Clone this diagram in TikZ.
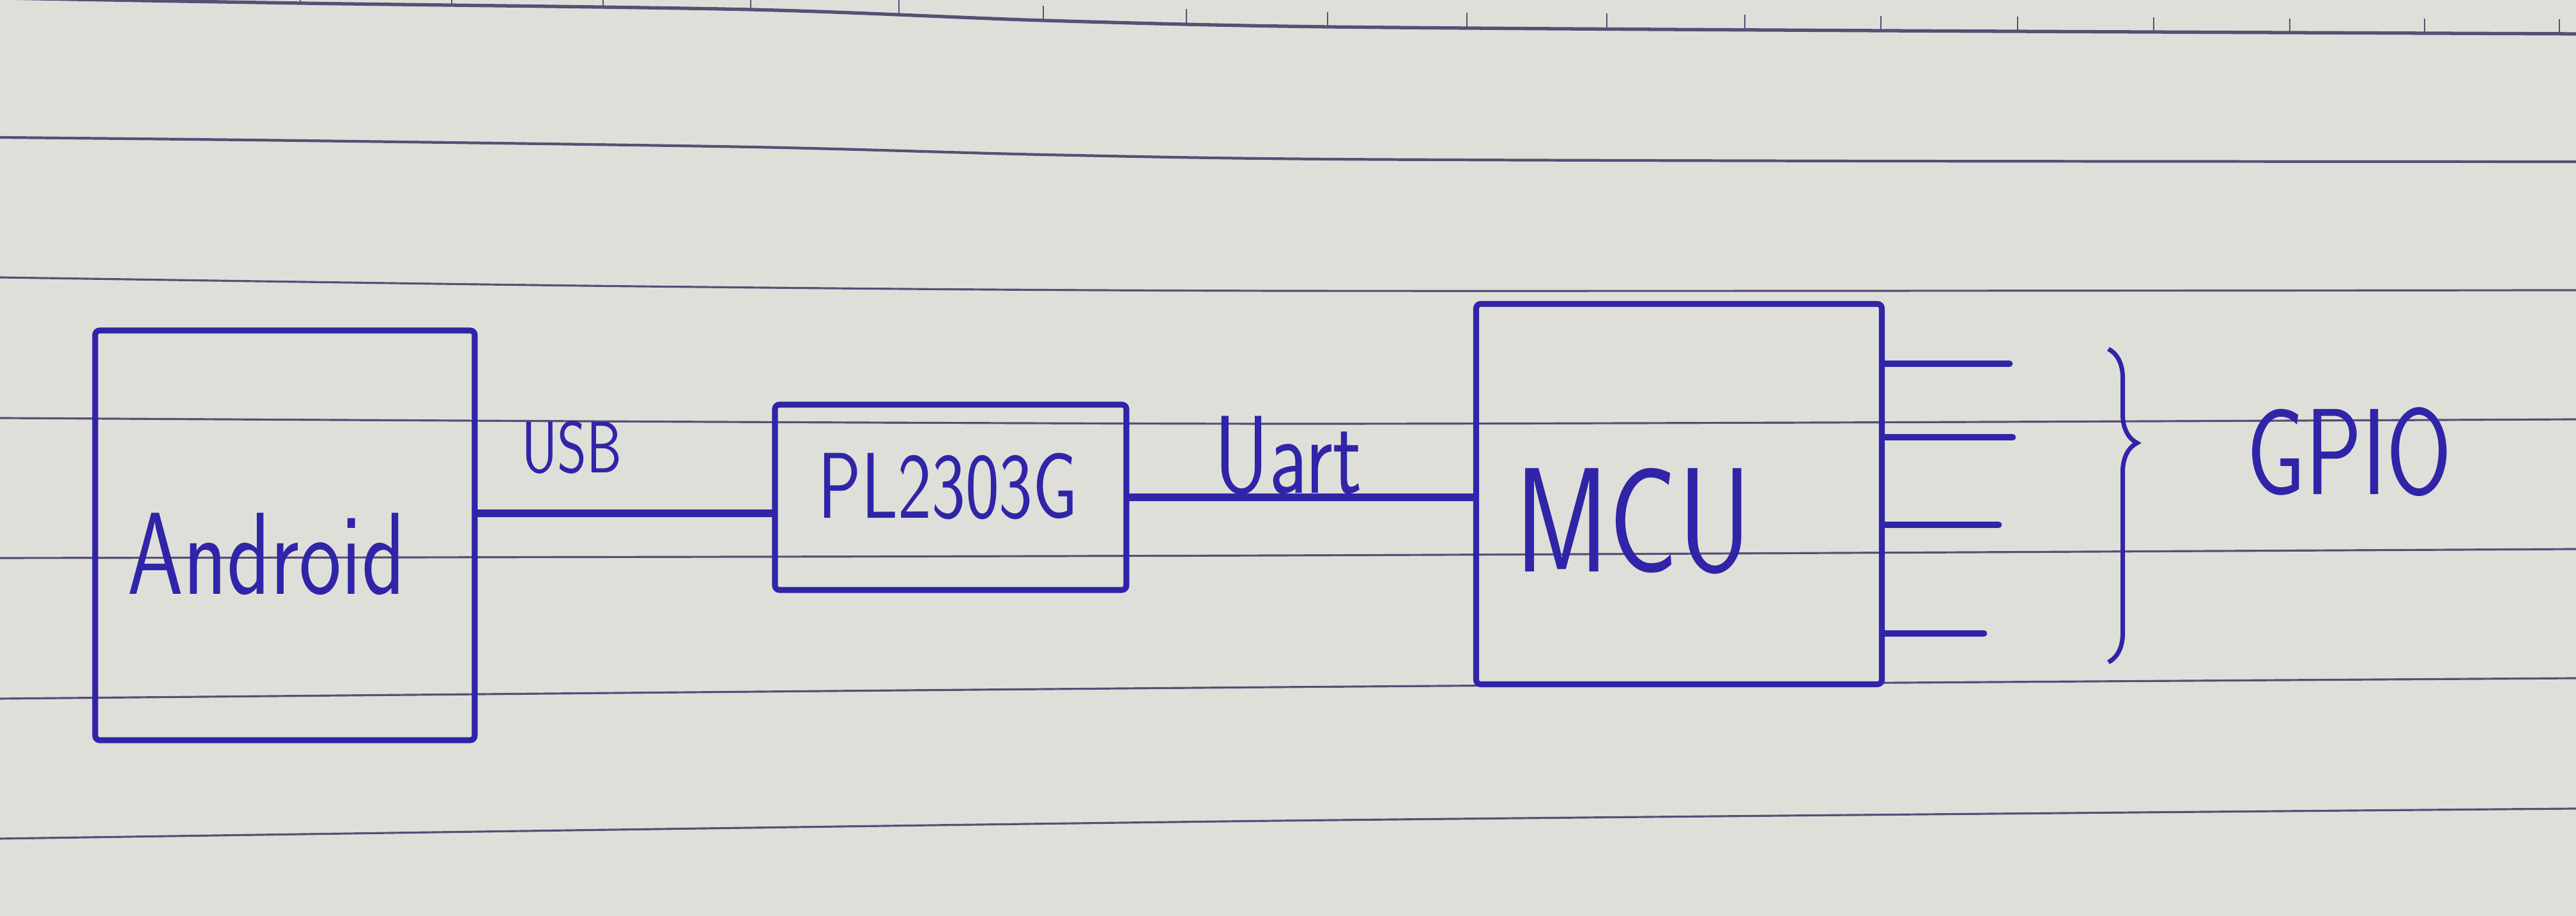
\documentclass[tikz,border=0pt]{standalone}
\usepackage{fontspec}
\usetikzlibrary{positioning,decorations.pathreplacing}
\definecolor{pen}{RGB}{48,36,168}
\definecolor{paper}{RGB}{223,223,217}
\definecolor{rule}{RGB}{88,78,118}
\tikzset{
  block/.style = {draw=pen, line width=2.6pt, inner sep=0pt, rounded corners=2pt},
  wire/.style = {draw=pen, line width=3.4pt, line cap=round},
  hand/.style = {text=pen, inner sep=0pt, font=\sffamily\fontsize{#1}{#1}\selectfont},
  ruled/.style = {draw=rule, line width=0.9pt},
}
\newcommand{\scrawl}[1]{\scalebox{1}[1.3]{#1}}

\begin{document}
\begin{tikzpicture}
  \fill[paper] (0,0) rectangle (40.32,14.33);
  \useasboundingbox (0,0) rectangle (40.32,14.33);
  \clip (0,0) rectangle (40.32,14.33);
  % ruled paper
  \draw[ruled, line width=1.5pt] plot[smooth] coordinates {(0,14.36) (4.7,14.28) (11.75,14.18) (16.33,14.01) (20.78,13.91) (29.44,13.85) (40.32,13.80)};
  \foreach \x/\y in {4.70/14.28, 7.07/14.25, 9.44/14.22, 11.75/14.18, 14.07/14.10, 16.33/14.01,
      18.57/13.96, 20.78/13.91, 22.96/13.90, 25.15/13.89, 27.31/13.87, 29.44/13.85,
      31.58/13.84, 33.71/13.83, 35.84/13.81, 37.95/13.81, 40.06/13.80}
    \draw[ruled, line width=0.6pt] (\x,\y) -- ++(0,0.23);
  \draw[ruled, line width=1.2pt] plot[smooth] coordinates {(0,12.18) (4.7,12.13) (11.75,12.03) (16.33,11.91) (20.78,11.84) (29.44,11.81) (40.32,11.80)};
  \draw[ruled] plot[smooth] coordinates {(0,9.99) (10,9.85) (20,9.78) (40.32,9.79)};
  \draw[ruled] plot[smooth] coordinates {(0,7.79) (20,7.70) (40.32,7.77)};
  \draw[ruled] plot[smooth] coordinates {(0,5.60) (20,5.64) (40.32,5.74)};
  \draw[ruled] plot[smooth] coordinates {(0,3.40) (20,3.58) (40.32,3.72)};
  \draw[ruled] plot[smooth] coordinates {(0,1.21) (20,1.49) (40.32,1.68)};

  % blocks
  \node[block, minimum width=5.94cm, minimum height=6.41cm] (android) at (4.46,5.955) {};
  \node[block, minimum width=5.5cm, minimum height=2.9cm] (pl) at (14.88,6.55) {};
  \node[block, minimum width=6.35cm, minimum height=5.95cm] (mcu) at (26.28,6.6) {};
  \node[hand=40pt] (androidtxt) at (4.17,5.66) {\scrawl{Android}};
  \node[hand=32pt] (pltxt) at (14.84,6.72) {\scrawl{PL2303G}};
  \node[hand=51pt] (mcutxt) at (25.57,6.18) {\scrawl{MCU}};

  % links
  \draw[wire] (android.east |- 0,6.3) -- (pl.west |- 0,6.3);
  \draw[wire] (pl.east) -- (mcu.west |- pl.east);
  \node[hand=25pt] (usb) at (8.95,7.33) {\scrawl{USB}};
  \node[hand=38pt] (uart) at (20.16,7.2) {\scrawl{Uart}};

  % gpio pins
  \foreach \y/\l [count=\i] in {8.64/1.95, 7.49/2.0, 6.12/1.78, 4.42/1.55}
    \draw[wire, line width=3pt] (mcu.east |- 0,\y) -- ++(\l,0) coordinate (pin\i);
  \coordinate (gtop) at (33.0,8.87);
  \coordinate (gbot) at (33.0,3.97);
  \draw[pen, line width=2pt, decorate, decoration={brace, amplitude=0.45cm, aspect=0.3}] (gtop) -- (gbot);
  \node[hand=42pt] (gpio) at (36.77,7.26) {\scrawl{GPIO}};
\end{tikzpicture}
\end{document}
